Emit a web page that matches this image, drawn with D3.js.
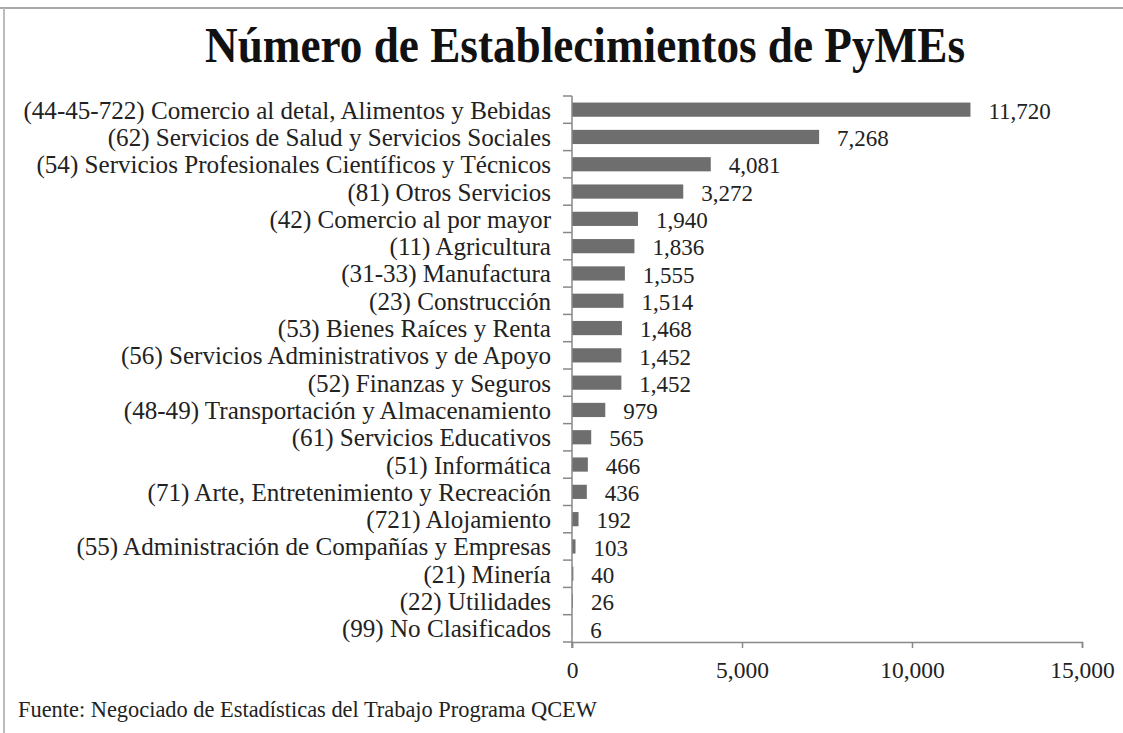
<!DOCTYPE html>
<html>
<head>
<meta charset="utf-8">
<script src="https://cdn.jsdelivr.net/npm/d3@7"></script>
<style>
  body { margin: 0; background: #fff; }
  text { font-family: "Liberation Serif", "DejaVu Serif", serif; fill: #222; }
</style>
</head>
<body>
<div id="viz"></div>
<script>

var categories = [
	"(44-45-722) Comercio al detal, Alimentos y Bebidas",
	"(62) Servicios de Salud y Servicios Sociales",
	"(54) Servicios Profesionales Científicos y Técnicos",
	"(81) Otros Servicios",
	"(42) Comercio al por mayor",
	"(11) Agricultura",
	"(31-33) Manufactura",
	"(23) Construcción",
	"(53) Bienes Raíces y Renta",
	"(56) Servicios Administrativos y de Apoyo",
	"(52) Finanzas y Seguros",
	"(48-49) Transportación y Almacenamiento",
	"(61) Servicios Educativos",
	"(51) Informática",
	"(71) Arte, Entretenimiento y Recreación",
	"(721) Alojamiento",
	"(55) Administración de Compañías y Empresas",
	"(21) Minería",
	"(22) Utilidades",
	"(99) No Clasificados"
];
var values = [11720, 7268, 4081, 3272, 1940, 1836, 1555, 1514, 1468, 1452, 1452, 979, 565, 466, 436, 192, 103, 40, 26, 6];
var xTicks = [0, 5000, 10000, 15000];

var viz = { width: 1123, height: 733 };
var plot = { left: 572, right: 1082, top: 96, bottom: 642 };

var svg = d3.select("#viz").append("svg")
	.attr("width", viz.width)
	.attr("height", viz.height);

// frame lines (scan border)
svg.append("line").attr("x1", 0).attr("x2", viz.width).attr("y1", 8).attr("y2", 8)
	.attr("stroke", "#aaa").attr("stroke-width", 2);
svg.append("line").attr("x1", 4).attr("x2", 4).attr("y1", 8).attr("y2", viz.height)
	.attr("stroke", "#bbb").attr("stroke-width", 2);

svg.append("text")
	.attr("x", 585).attr("y", 62)
	.attr("text-anchor", "middle")
	.attr("font-size", 50)
	.attr("font-weight", "bold")
	.attr("textLength", 760)
	.attr("lengthAdjust", "spacingAndGlyphs")
	.style("fill", "#111")
	.text("Número de Establecimientos de PyMEs");

var x = d3.scaleLinear().domain([0, 15000]).range([plot.left, plot.right]);
var y = d3.scaleBand().domain(categories).range([plot.top, plot.bottom]).paddingInner(0.48).paddingOuter(0.24);

// bars
svg.selectAll(".bar")
	.data(values).enter()
	.append("rect")
	.attr("class", "bar")
	.attr("x", x(0))
	.attr("y", function(d, i) { return y(categories[i]) })
	.attr("width", function(d) { return x(d) - x(0) })
	.attr("height", y.bandwidth())
	.attr("fill", "#6e6e6e");

// value labels
svg.selectAll(".val")
	.data(values).enter()
	.append("text")
	.attr("class", "val")
	.attr("x", function(d) { return x(d) + 18 })
	.attr("y", function(d, i) { return y(categories[i]) + y.bandwidth() / 2 })
	.attr("dy", "0.4em")
	.attr("font-size", 23)
	.text(function(d) { return d3.format(",")(d) });

// category labels
svg.selectAll(".cat")
	.data(categories).enter()
	.append("text")
	.attr("class", "cat")
	.attr("x", 551)
	.attr("y", function(d) { return y(d) + y.bandwidth() / 2 })
	.attr("dy", "0.36em")
	.attr("text-anchor", "end")
	.attr("font-size", 25.1)
	.text(function(d) { return d });

// y axis line + ticks between bands
var step = (plot.bottom - plot.top) / categories.length;
svg.append("line").attr("x1", plot.left).attr("x2", plot.left)
	.attr("y1", plot.top).attr("y2", plot.bottom + 6)
	.attr("stroke", "#888").attr("stroke-width", 1.5);
svg.selectAll(".ytick")
	.data(d3.range(categories.length + 1)).enter()
	.append("line")
	.attr("x1", plot.left - 9).attr("x2", plot.left)
	.attr("y1", function(i) { return plot.top + i * step })
	.attr("y2", function(i) { return plot.top + i * step })
	.attr("stroke", "#888").attr("stroke-width", 1.5);

// x axis
var xAxis = svg.append("g")
	.attr("transform", "translate(0," + plot.bottom + ")")
	.call(d3.axisBottom(x).tickValues(xTicks).tickFormat(d3.format(",")).tickSize(6).tickPadding(13));
xAxis.select(".domain").attr("stroke", "#888").attr("stroke-width", 1.5);
xAxis.selectAll(".tick line").attr("stroke", "#888").attr("stroke-width", 1.5);
xAxis.selectAll(".tick text")
	.attr("font-family", "Liberation Serif, serif")
	.attr("font-size", 23.5)
	.style("fill", "#222");

svg.append("text")
	.attr("x", 18).attr("y", 717)
	.attr("font-size", 22.4)
	.text("Fuente: Negociado de Estadísticas del Trabajo Programa QCEW");

</script>
</body>
</html>
